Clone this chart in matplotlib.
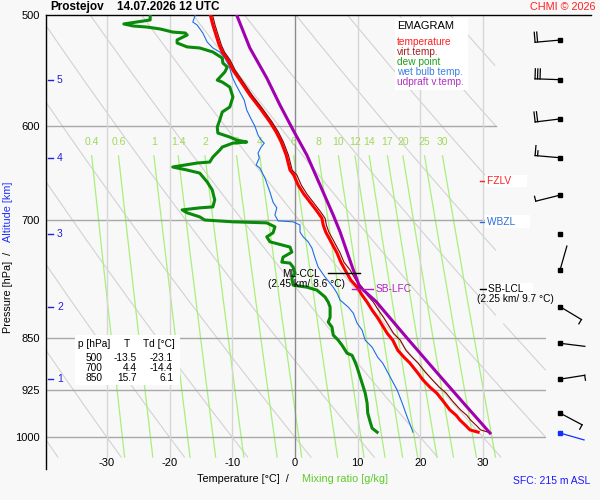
import numpy as np
import matplotlib
matplotlib.use("Agg")
import matplotlib.pyplot as plt
from matplotlib import transforms
from matplotlib.patches import Rectangle

plt.rcParams['font.family'] = ['Liberation Sans', 'DejaVu Sans']

# --- sondage : temperature et temperature virtuelle ---
p_t = [500, 508.3, 516.7, 525.2, 531.3, 538.3, 547.3, 556.4, 570.2, 582.5, 596, 605.9,
       615.9, 629.3, 639.6, 644.9, 650.2, 661, 670.8, 679.8, 689.9, 698, 705.8, 714,
       723.5, 739, 750, 760, 772.6, 781.5, 791.8, 801, 811.6, 821, 831.8, 843, 852.7,
       867, 877, 885, 898.8, 910, 920.9, 930, 942, 956, 964.5, 972, 981.6, 987.9, 991.6]
t_t = [-13.5, -13.1, -12.6, -12.1, -11.6, -10.7, -9.9, -8.8, -7.2, -5.6, -4.0, -3.0,
       -2.2, -1.4, -1.0, -0.8, -0.2, 0.5, 1.4, 2.4, 3.5, 4.3, 4.5, 4.9,
       5.6, 6.7, 7.3, 8.0, 8.9, 9.9, 10.7, 11.5, 12.3, 13.1, 13.9, 14.7, 15.6,
       16.4, 17.4, 18.3, 19.5, 20.4, 21.5, 22.6, 23.6, 24.7, 25.7, 26.3, 27.3, 27.9, 29.2]
t_v = [-13.15, -12.75, -12.25, -11.75, -11.25, -10.35, -9.55, -8.45, -6.85, -5.25, -3.65, -2.65,
       -1.85, -1.05, -0.65, -0.45, 0.3, 1.0, 1.9, 2.9, 4.0, 4.8, 5.0, 5.4,
       6.1, 7.2, 7.8, 8.8, 9.7, 10.7, 11.5, 12.5, 13.3, 14.1, 14.9, 15.7, 16.8,
       17.7, 18.7, 19.6, 20.8, 21.9, 23.0, 24.1, 25.1, 26.4, 27.4, 28.0, 29.0, 29.6, 30.8]

# --- point de rosee ---
p_td = [500, 504.1, 507.4, 509.1, 510.0, 511.6, 514.2, 515.0, 516.7, 520.9, 523.5, 526.9,
        527.8, 531.3, 536.6, 541.0, 544.6, 549.1, 556.4, 558.2, 562.8, 572.0, 581.5, 586.3,
        594.1, 601.0, 606.9, 610.9, 613.9, 615.9, 617.0, 621.0, 624.1, 631.3, 636.5, 637.5,
        641.7, 644.9, 648.1, 657.7, 666.3, 677.3, 685.1, 686.2, 688.5, 691.8, 696.4, 700.0,
        702.1, 703.3, 707.9, 714.9, 719.6, 725.5, 731.8, 737.9, 744.0, 750.1, 751.3, 756.3,
        763.8, 770.0, 779.0, 781.6, 785.4, 794.4, 801.0, 807.6, 821.0, 827.7, 834.6, 845.6,
        852.7, 859.8, 871.1, 874.1, 884.1, 891.4, 906.1, 915.0, 930.1, 945.5, 961.1, 975.4,
        985.2, 991.6]
t_td = [-23.1, -23.1, -27.3, -25.8, -23.6, -21.5, -19.5, -17.5, -17.2, -18.8, -18.8, -17.2,
        -15.2, -13.1, -11.6, -11.5, -10.8, -11.2, -12.4, -11.6, -10.4, -9.9, -10.4, -11.6,
        -12.0, -12.4, -12.3, -10.4, -9.3, -7.7, -9.9, -11.6, -12.0, -13.1, -13.6, -15.6,
        -19.5, -17.2, -15.2, -14.0, -13.2, -12.8, -13.1, -15.2, -18.0, -17.2, -15.2, -14.4,
        -9.9, -4.5, -3.2, -3.5, -4.5, -4.0, -0.8, -0.5, -1.9, -2.1, -0.8, -0.3,
        0.0, -0.5, -0.3, 1.9, 3.5, 4.8, 5.3, 5.6, 5.6, 5.3, 5.9, 6.1,
        6.9, 7.5, 8.3, 9.1, 9.6, 9.9, 10.4, 10.7, 11.2, 11.5, 11.6, 12.0,
        12.3, 13.1]

# --- temperature du thermometre mouille ---
p_tw = [500, 505.8, 508.3, 515.0, 522.7, 527.8, 531.3, 536.6, 543.7, 553.6, 560.9, 567.4,
        574.9, 584.4, 593.1, 600.0, 608.9, 613.9, 617.0, 621.0, 627.2, 632.3, 639.7, 642.8,
        653.4, 668.6, 679.8, 686.2, 694.4, 701.0, 702.1, 705.8, 714.0, 719.6, 725.5, 733.0,
        745.2, 756.3, 768.8, 781.6, 789.2, 798.4, 807.6, 815.6, 829.1, 838.7, 852.7, 862.5,
        877.0, 885.5, 906.1, 925.5, 945.5, 967.5, 988.3, 991.6]
t_tw = [-15.9, -16.3, -15.6, -14.7, -14.0, -13.1, -12.0, -11.2, -10.5, -10.0, -9.4, -8.8,
        -8.1, -7.7, -7.0, -6.4, -5.9, -5.4, -4.9, -5.4, -5.9, -5.7, -6.2, -5.6,
        -4.8, -4.0, -3.5, -2.9, -3.2, -2.7, -0.3, 0.8, 0.8, 1.3, 2.1, 2.7,
        3.2, 3.7, 4.8, 6.1, 6.7, 7.2, 8.5, 9.3, 9.9, 10.7, 11.2, 12.3,
        13.2, 14.0, 15.2, 16.3, 17.1, 17.9, 18.7, 18.8]

# --- particule ascendante (temperature virtuelle) ---
p_par = [500, 527.8, 554.5, 579.6, 603.9, 629.3, 661, 694.4, 714, 735.6, 757.5, 781,
         800, 850, 900, 950, 993]
t_par = [-9.3, -7.2, -4.5, -2.4, -0.3, 1.9, 4.0, 6.1, 7.2, 8.2, 9.2, 10.3,
         12.9, 17.9, 22.7, 27.3, 31.1]

# --- vent (direction d'ou vient le vent en degres, vitesse en kt) ---
vent_p = [521, 556, 593, 632, 672, 716, 760, 807, 857, 909, 961, 993]
vent_dir = [265, 272, 263, 275, 256, 0, 16, 121, 97, 81, 118, 106]
vent_kt = [20, 30, 20, 15, 5, 0, 2, 5, 2, 5, 5, 2]

# --- divers ---
niveaux = [500, 600, 700, 850, 925, 1000]
isothermes = [-30, -20, -10, 0, 10, 20, 30]
rapports = [0.4, 0.6, 1, 1.4, 2, 3, 4, 6, 8, 10, 12, 14, 17, 20, 25, 30]
alt_km = [1, 2, 3, 4, 5]
alt_p = [909, 808, 716, 632, 556]
tab_p = [500, 700, 850]
tab_t = [-13.5, 4.4, 15.7]
tab_td = [-23.1, -14.4, 6.1]
p_fzlv, p_wbzl = 656.6, 702
p_sblcl, p_mlccl = 784, 764

FOND = '#f8f8f8'
T_G, T_D = -39.71, 40.03
P_HAUT, P_BAS = 500., 1053.4
P_GRILLE = 1033.


def t_max(p):
    return np.where(np.asarray(p) < 830, 32.06, T_D)


def rosee(w, p):
    e = w * p / (622. + w)
    a = np.log(e / 6.112)
    return 243.5 * a / (17.67 - a)


fig = plt.figure(figsize=(6, 5), dpi=100, facecolor=FOND)
ax = fig.add_axes([46/600, 31/500, 500/600, 454/500], facecolor=FOND)
ax.set_yscale('log')
ax.set_xlim(T_G, T_D)
ax.set_ylim(P_BAS, P_HAUT)
for s in ['right', 'bottom', 'top']:
    ax.spines[s].set_visible(False)
ax.spines['left'].set_linewidth(1)
ax.set_xticks([])
ax.set_yticks(niveaux)
ax.set_yticklabels([str(p) for p in niveaux])
ax.yaxis.set_minor_locator(plt.NullLocator())
ax.tick_params(axis='y', length=0, pad=4.3, labelsize=8)

# ligne du haut (500 hPa)
ax.plot([0, 545/500], [1, 1], transform=ax.transAxes, color='k', lw=1, clip_on=False, zorder=5)

# isobares
for p in niveaux[1:]:
    ax.plot([T_G, float(t_max(p))], [p, p], color='#a8a8a8', lw=1.0, zorder=2)

# isothermes
for t in isothermes:
    ax.plot([t, t], [P_HAUT, P_GRILLE], color='#8c8c8c' if t == 0 else '#d6d6d6',
            lw=1.0, zorder=2)
    ax.text(t, 1043.5, str(t), ha='center', va='center', fontsize=8)

# adiabatiques seches
pp = np.geomspace(P_HAUT, P_GRILLE, 300)
for th in range(-40, 160, 10):
    tt = (th + 273.15) * (pp / 1000.) ** 0.2857 - 273.15
    tt[(tt > t_max(pp)) | (tt < T_G)] = np.nan
    ax.plot(tt, pp, color='#d2d2d2', lw=0.8, zorder=1)

# rapports de melange
pm = np.geomspace(630, P_GRILLE, 100)
for w in rapports:
    tt = rosee(w, pm)
    tt[tt > t_max(pm)] = np.nan
    ax.plot(tt, pm, color='#a8f07a', lw=0.9, zorder=1)
    ax.text(rosee(w, 630), 616, '%g' % w, ha='center', va='center', fontsize=7.5,
            color='#a2d85c')

# profils
ax.plot(t_tw, p_tw, color='#1e6ee6', lw=0.8, zorder=6)
ax.plot(t_td, p_td, color='#0a8a0a', lw=2.2, zorder=6)
ax.plot(t_t, p_t, color='#ff0000', lw=2.2, zorder=7)
ax.plot(t_v, p_t, color='#8b0000', lw=0.8, zorder=8)
ax.plot(t_par, p_par, color='#a000b0', lw=2.2, zorder=8)

# niveaux remarquables
bb = dict(facecolor='white', edgecolor='none', pad=1)
ax.plot([29.5, 30.5], [p_fzlv, p_fzlv], color='#ff2020', lw=1, zorder=9)
ax.text(30.6, p_fzlv, 'FZLV     ', color='#ff2020', fontsize=7.3, va='center', bbox=bb, zorder=9)
ax.plot([29.5, 30.5], [p_wbzl, p_wbzl], color='#2a6ee0', lw=1, zorder=9)
ax.text(30.6, p_wbzl, 'WBZL     ', color='#2a6ee0', fontsize=7.3, va='center', bbox=bb, zorder=9)
ax.plot([29.5, 30.5], [p_sblcl, p_sblcl], color='k', lw=1, zorder=9)
ax.text(30.8, p_sblcl, 'SB-LCL   ', color='k', fontsize=7.3, va='center', bbox=bb, zorder=9)
ax.text(35.2, 797, '(2.25 km/ 9.7 °C)', color='k', fontsize=7.3, ha='center', va='center', zorder=9)
ax.plot([9.1, 12.4], [p_sblcl, p_sblcl], color='#b020c0', lw=1, zorder=9)
ax.text(12.9, p_sblcl, 'SB-LFC', color='#b020c0', fontsize=7.3, va='center', zorder=9)
ax.plot([5.3, 10.4], [p_mlccl, p_mlccl], color='k', lw=1, zorder=9)
ax.text(4.0, 765, 'ML-CCL', color='k', fontsize=7.3, ha='right', va='center', zorder=9)
ax.text(1.9, 777.6, '(2.45 km/ 8.6 °C)', color='k', fontsize=7.3, ha='center', va='center', zorder=9)

# altitudes
bt = transforms.blended_transform_factory(ax.transAxes, ax.transData)
for z, p in zip(alt_km, alt_p):
    ax.plot([0.004, 0.014], [p, p], transform=bt, color='#2020e0', lw=1, zorder=9)
    ax.text(0.022, p, str(z), transform=bt, color='#2020e0', fontsize=7.5, va='center')

# calque en pixels pour textes et barbules
ov = fig.add_axes([0, 0, 1, 1], facecolor='none')
ov.set_xlim(0, 600)
ov.set_ylim(500, 0)
ov.axis('off')

ov.text(50, 7, 'Prostejov', fontsize=8.5, fontweight='bold', va='center')
ov.text(117, 7, '14.07.2026 12 UTC', fontsize=8.5, fontweight='bold', va='center')
ov.text(596, 7, 'CHMI © 2026', fontsize=7.8, color='#ff2020', ha='right', va='center')

# legende
ov.add_patch(Rectangle((395, 18), 73, 72, facecolor='white', edgecolor='none'))
ov.text(397, 26, 'EMAGRAM', fontsize=8, va='center')
for i, (nom, c) in enumerate([('temperature', '#ff2020'), ('virt.temp.', '#a82020'),
                              ('dew point', '#20a020'), ('wet bulb temp.', '#3a7ee6'),
                              ('udpraft v.temp.', '#b030c0')]):
    ov.text(397, 42 + 10*i, nom, fontsize=7.3, color=c, va='center')

# tableau
ov.add_patch(Rectangle((75, 335), 105, 50, facecolor='white', edgecolor='none'))
ov.text(78, 344, 'p [hPa]', fontsize=7.3, va='center')
ov.text(127, 344, 'T', fontsize=7.3, va='center', ha='center')
ov.text(143, 344, 'Td [°C]', fontsize=7.3, va='center')
for i in range(3):
    y = 358 + 10*i
    ov.text(102, y, str(tab_p[i]), fontsize=7.3, va='center', ha='right')
    ov.text(137, y, '%.1f' % tab_t[i], fontsize=7.3, va='center', ha='right')
    ov.text(173, y, '%.1f' % tab_td[i], fontsize=7.3, va='center', ha='right')

# titres des axes
ov.text(197, 479, 'Temperature [°C]  /', fontsize=7.8, va='center')
ov.text(302, 479, 'Mixing ratio [g/kg]', fontsize=7.8, va='center', color='#5ccc2a')
ov.text(8, 333, 'Pressure [hPa]  /', fontsize=7.8, rotation=90, ha='center', va='bottom')
ov.text(8, 242, 'Altitude [km]', fontsize=7.8, rotation=90, ha='center', va='bottom',
        color='#2030ff')
ov.text(590, 481, 'SFC: 215 m ASL', fontsize=7.5, color='#1a1aff', ha='right', va='center')


# barbules de vent
def barbule(sx, sy, d, v, c):
    ov.plot([sx], [sy], 's', ms=2.2, color=c, mec=c)
    if v <= 0:
        return
    a = np.radians(d)
    ux, uy = np.sin(a), -np.cos(a)
    fx, fy = np.sin(a + np.pi/2), -np.cos(a + np.pi/2)
    ex, ey = sx + 25*ux, sy + 25*uy
    ov.plot([sx, ex], [sy, ey], color=c, lw=0.9)
    n10, reste = divmod(v, 10)
    pos = 0.
    for i in range(int(n10)):
        bx, by = ex - pos*ux, ey - pos*uy
        ov.plot([bx, bx + 10*fx], [by, by + 10*fy], color=c, lw=0.9)
        pos += 2.5
    if reste >= 5:
        bx, by = ex - pos*ux, ey - pos*uy
        ov.plot([bx, bx + 5*fx], [by, by + 5*fy], color=c, lw=0.9)


inv = ov.transData.inverted()
for i, (p, d, v) in enumerate(zip(vent_p, vent_dir, vent_kt)):
    sx, sy = inv.transform(bt.transform((514/500, p)))
    barbule(sx, sy, d, v, '#1030ff' if i == len(vent_p) - 1 else 'k')

fig.savefig('out.png', dpi=100, facecolor=FOND)
